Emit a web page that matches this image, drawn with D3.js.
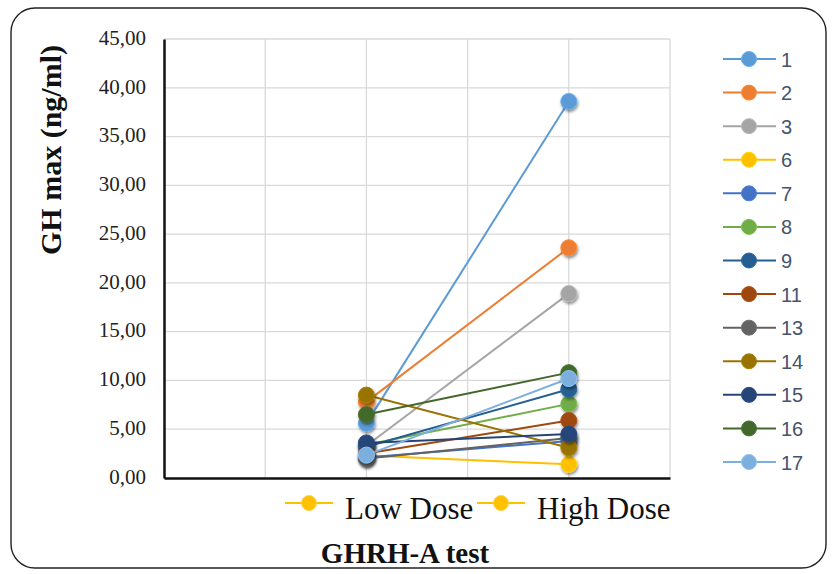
<!DOCTYPE html>
<html>
<head>
<meta charset="utf-8">
<script src="https://cdn.jsdelivr.net/npm/d3@7"></script>
<style>
  html, body { margin: 0; padding: 0; background: #fff; }
  svg { display: block; }
</style>
</head>
<body>
<svg id="chart" width="832" height="574"></svg>
<script>
// ---- data ----
const categories = ["Low Dose", "High Dose"];
const categoryPositions = [2, 4];           // position on the 0..5 category axis
const seriesNames = ["1", "2", "3", "6", "7", "8", "9", "11", "13", "14", "15", "16", "17"];
const lowDose  = [5.6, 7.8, 3.3, 2.3, 2.1, 3.4, 3.2, 2.5, 2.0, 8.5, 3.6, 6.5, 2.35];
const highDose = [38.6, 23.6, 18.9, 1.4, 3.8, 7.6, 9.1, 5.9, 4.1, 3.1, 4.5, 10.8, 10.2];
const seriesColors = ["#5B9BD5", "#ED7D31", "#A5A5A5", "#FFC000", "#4472C4", "#70AD47",
                      "#255E91", "#9E480E", "#636363", "#997300", "#264478", "#43682B", "#7CAFDD"];
const yTicks = [0, 5, 10, 15, 20, 25, 30, 35, 40, 45];
const xGridTicks = [0, 1, 2, 3, 4, 5];

// ---- layout ----
const svg = d3.select("#chart");
const plot = { left: 164, right: 670, top: 39, bottom: 478 };

const x = d3.scaleLinear().domain([0, 5]).range([plot.left, plot.right]);
const y = d3.scaleLinear().domain([0, 45]).range([plot.bottom, plot.top]);

// filter for marker shadows
const defs = svg.append("defs");
const f = defs.append("filter").attr("id", "shadow")
  .attr("x", "-50%").attr("y", "-50%").attr("width", "200%").attr("height", "200%");
f.append("feDropShadow").attr("dx", 1).attr("dy", 2).attr("stdDeviation", 1.6)
  .attr("flood-color", "#000").attr("flood-opacity", 0.45);

// outer rounded border
svg.append("rect").attr("x", 11).attr("y", 8).attr("width", 815).attr("height", 560)
  .attr("rx", 24).attr("ry", 24).attr("fill", "#fff").attr("stroke", "#222").attr("stroke-width", 1.4);

// gridlines
const grid = svg.append("g");
grid.selectAll("line.h").data(yTicks.filter(d => d > 0)).join("line")
  .attr("x1", plot.left).attr("x2", plot.right)
  .attr("y1", d => y(d)).attr("y2", d => y(d))
  .attr("stroke", "#d9d9d9").attr("stroke-width", 1.3);
grid.selectAll("line.v").data(xGridTicks.filter(d => d > 0)).join("line")
  .attr("y1", plot.top).attr("y2", plot.bottom)
  .attr("x1", d => x(d)).attr("x2", d => x(d))
  .attr("stroke", "#d9d9d9").attr("stroke-width", 1.3);

// y axis
const yAxis = d3.axisLeft(y).tickValues(yTicks).tickSize(0).tickPadding(18)
  .tickFormat(d => d3.format(".2f")(d).replace(".", ","));
const yg = svg.append("g").attr("transform", `translate(${plot.left},0)`).call(yAxis);
yg.select(".domain").attr("stroke", "#111").attr("stroke-width", 2.5);
yg.selectAll("text").attr("font-family", "'Liberation Serif', 'Times New Roman', serif")
  .attr("font-size", 21).attr("fill", "#222").attr("y", -1.5);

// x axis line
const xAxis = d3.axisBottom(x).tickValues([]).tickSize(0);
const xg = svg.append("g").attr("transform", `translate(0,${plot.bottom})`).call(xAxis);
xg.select(".domain").attr("stroke", "#111").attr("stroke-width", 2.5);

// series
const series = seriesNames.map((name, i) => ({
  name, color: seriesColors[i],
  pts: [lowDose[i], highDose[i]].map((v, j) => ({ x: categoryPositions[j], v }))
}));
const line = d3.line().x(d => x(d.x)).y(d => y(d.v));
const sg = svg.append("g");
series.forEach(s => {
  const g = sg.append("g");
  g.append("path").attr("d", line(s.pts)).attr("fill", "none")
    .attr("stroke", s.color).attr("stroke-width", 2);
  g.selectAll("circle").data(s.pts).join("circle")
    .attr("cx", d => x(d.x)).attr("cy", d => y(d.v)).attr("r", 8)
    .attr("fill", s.color).attr("stroke", d3.color(s.color).brighter(0.3))
    .attr("stroke-width", 1).attr("filter", "url(#shadow)");
});

// right legend
const legend = svg.append("g");
const legY = d3.scaleLinear().domain([0, seriesNames.length - 1]).range([59, 462]);
series.forEach((s, i) => {
  const g = legend.append("g").attr("transform", `translate(0,${legY(i)})`);
  g.append("line").attr("x1", 723).attr("x2", 776).attr("y1", 0).attr("y2", 0)
    .attr("stroke", s.color).attr("stroke-width", 2);
  g.append("circle").attr("cx", 749).attr("cy", 0).attr("r", 7.5)
    .attr("fill", s.color).attr("stroke", d3.color(s.color).brighter(0.3)).attr("stroke-width", 1);
  g.append("text").attr("x", 781).attr("y", 7.5).text(s.name)
    .attr("font-family", "'Liberation Sans', 'Open Sans', sans-serif")
    .attr("font-size", 20).attr("fill", "#44546A");
});

// bottom category legend (as in the original)
const catLegend = [{ lx: 285, tx: 345 }, { lx: 477, tx: 537 }];
categories.forEach((c, i) => {
  const p = catLegend[i];
  const g = svg.append("g");
  g.append("line").attr("x1", p.lx).attr("x2", p.lx + 48).attr("y1", 503).attr("y2", 503)
    .attr("stroke", "#FFC000").attr("stroke-width", 2);
  g.append("circle").attr("cx", p.lx + 24).attr("cy", 503).attr("r", 7.5)
    .attr("fill", "#FFC000").attr("stroke", "#FFD24D").attr("stroke-width", 1);
  g.append("text").attr("x", p.tx).attr("y", 519).text(c)
    .attr("font-family", "'Liberation Serif', 'Times New Roman', serif")
    .attr("font-size", 31).attr("fill", "#111");
});

// axis titles
svg.append("text").attr("x", 405).attr("y", 563).attr("text-anchor", "middle")
  .attr("font-family", "'Liberation Serif', 'Times New Roman', serif")
  .attr("font-weight", "bold").attr("font-size", 29).attr("fill", "#111")
  .text("GHRH-A test");
svg.append("text").attr("transform", "translate(61,150) rotate(-90)").attr("text-anchor", "middle")
  .attr("font-family", "'Liberation Serif', 'Times New Roman', serif")
  .attr("font-weight", "bold").attr("font-size", 30).attr("fill", "#111")
  .text("GH max (ng/ml)");
</script>
</body>
</html>
